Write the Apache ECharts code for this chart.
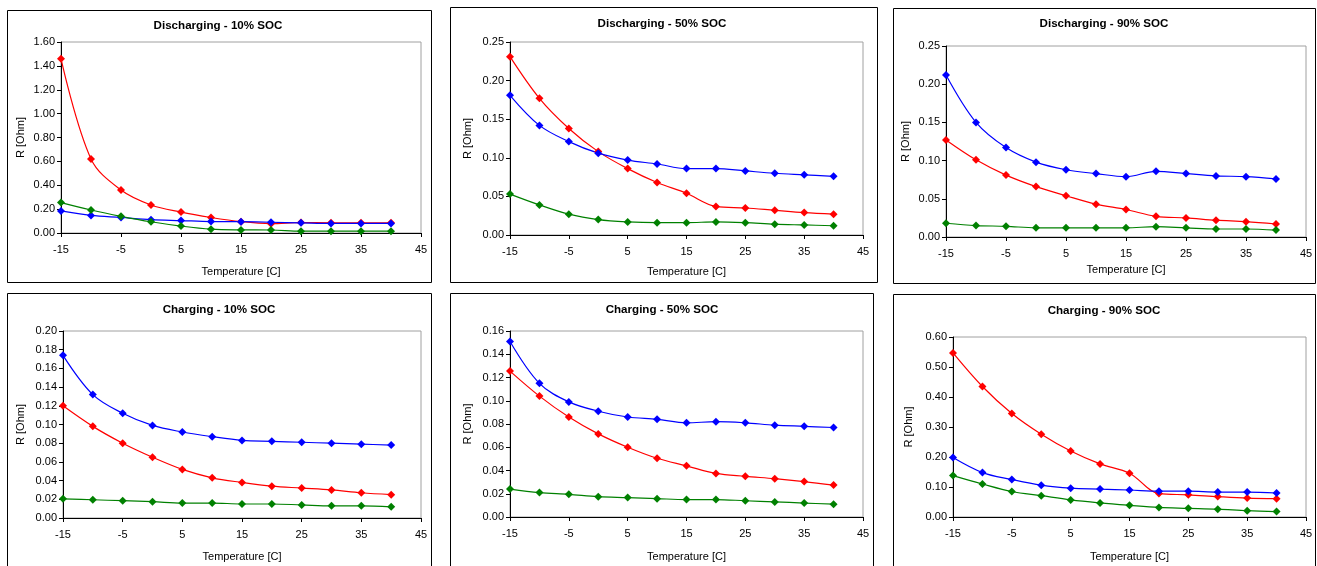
<!DOCTYPE html>
<html>
<head>
<meta charset="utf-8">
<script src="https://cdn.jsdelivr.net/npm/echarts@6/dist/echarts.min.js"></script>
<style>
  html, body { margin: 0; padding: 0; background: #fff; }
  #chart { width: 1317px; height: 566px; }
</style>
</head>
<body>
<div id="chart"></div>
<script>
// Temperatures at which resistance was measured [C]
const temps = [-15, -10, -5, 0, 5, 10, 15, 20, 25, 30, 35, 40];

// Discharging - 10% SOC
const dis10Red   = [1.46, 0.62, 0.36, 0.235, 0.175, 0.13, 0.095, 0.078, 0.088, 0.086, 0.086, 0.086];
const dis10Blue  = [0.185, 0.147, 0.13, 0.112, 0.104, 0.096, 0.095, 0.09, 0.085, 0.08, 0.08, 0.08];
const dis10Green = [0.255, 0.193, 0.14, 0.094, 0.058, 0.032, 0.026, 0.025, 0.015, 0.015, 0.015, 0.015];

// Discharging - 50% SOC
const dis50Red   = [0.231, 0.177, 0.138, 0.108, 0.086, 0.068, 0.054, 0.037, 0.035, 0.032, 0.029, 0.027];
const dis50Blue  = [0.181, 0.142, 0.121, 0.106, 0.097, 0.092, 0.086, 0.086, 0.083, 0.080, 0.078, 0.076];
const dis50Green = [0.053, 0.039, 0.027, 0.020, 0.017, 0.016, 0.016, 0.017, 0.016, 0.014, 0.013, 0.012];

// Discharging - 90% SOC
const dis90Red   = [0.127, 0.101, 0.081, 0.066, 0.054, 0.043, 0.036, 0.027, 0.025, 0.022, 0.020, 0.017];
const dis90Blue  = [0.212, 0.150, 0.117, 0.098, 0.088, 0.083, 0.079, 0.086, 0.083, 0.080, 0.079, 0.076];
const dis90Green = [0.018, 0.015, 0.014, 0.012, 0.012, 0.012, 0.012, 0.0135, 0.012, 0.0105, 0.0105, 0.009];

// Charging - 10% SOC
const chg10Red   = [0.120, 0.098, 0.080, 0.065, 0.052, 0.043, 0.038, 0.034, 0.032, 0.030, 0.027, 0.025];
const chg10Blue  = [0.174, 0.132, 0.112, 0.099, 0.092, 0.087, 0.083, 0.082, 0.081, 0.080, 0.079, 0.078];
const chg10Green = [0.0205, 0.0195, 0.0185, 0.0175, 0.016, 0.016, 0.015, 0.015, 0.014, 0.013, 0.013, 0.012];

// Charging - 50% SOC
const chg50Red   = [0.1255, 0.104, 0.086, 0.0715, 0.060, 0.0505, 0.044, 0.0375, 0.035, 0.033, 0.0305, 0.0275];
const chg50Blue  = [0.151, 0.115, 0.099, 0.091, 0.086, 0.084, 0.081, 0.082, 0.081, 0.079, 0.078, 0.077];
const chg50Green = [0.024, 0.021, 0.0195, 0.0175, 0.0167, 0.0158, 0.015, 0.015, 0.014, 0.013, 0.012, 0.011];

// Charging - 90% SOC
const chg90Red   = [0.547, 0.435, 0.345, 0.276, 0.220, 0.177, 0.146, 0.078, 0.074, 0.068, 0.063, 0.061];
const chg90Blue  = [0.198, 0.148, 0.125, 0.106, 0.096, 0.093, 0.090, 0.086, 0.086, 0.083, 0.083, 0.080];
const chg90Green = [0.138, 0.110, 0.085, 0.071, 0.057, 0.047, 0.039, 0.032, 0.029, 0.026, 0.021, 0.018];

// Panel titles and y-axis ranges
const titles = [
  'Discharging - 10% SOC', 'Discharging - 50% SOC', 'Discharging - 90% SOC',
  'Charging - 10% SOC', 'Charging - 50% SOC', 'Charging - 90% SOC'
];
const yMax  = [1.6, 0.25, 0.25, 0.2, 0.16, 0.6];
const yStep = [0.2, 0.05, 0.05, 0.02, 0.02, 0.1];
const xTicks = { min: -15, max: 45, interval: 10 };
const xName = 'Temperature [C]';
const yName = 'R [Ohm]';

const panelData = [
  [dis10Red, dis10Blue, dis10Green],
  [dis50Red, dis50Blue, dis50Green],
  [dis90Red, dis90Blue, dis90Green],
  [chg10Red, chg10Blue, chg10Green],
  [chg50Red, chg50Blue, chg50Green],
  [chg90Red, chg90Blue, chg90Green]
];
const lineColors = ['#ff0000', '#0000ff', '#008000'];

// Layout of each panel: outer frame, plot area, title position, axis-name gaps
const layout = [
  { box: [7, 10, 424, 272],  grid: [61, 42, 360, 191],  title: [218, 26],  xGap: 33, yGap: 35 },
  { box: [450, 7, 427, 275], grid: [510, 42, 353, 193], title: [662, 24],  xGap: 31, yGap: 37 },
  { box: [893, 8, 422, 275], grid: [946, 46, 360, 191], title: [1104, 24], xGap: 27, yGap: 35 },
  { box: [7, 293, 424, 290], grid: [63, 331, 358, 187], title: [219, 310], xGap: 33, yGap: 37 },
  { box: [450, 293, 423, 290], grid: [510, 331, 353, 186], title: [662, 310], xGap: 34, yGap: 37 },
  { box: [893, 294, 422, 290], grid: [953, 337, 353, 180], title: [1104, 311], xGap: 34, yGap: 39 }
];

const FONT = '"Liberation Sans", Arial, sans-serif';

const grids = [], xAxes = [], yAxes = [], series = [], graphics = [];

layout.forEach((p, i) => {
  graphics.push({
    type: 'rect',
    shape: { x: p.box[0] + 0.5, y: p.box[1] + 0.5, width: p.box[2], height: p.box[3] },
    style: { fill: 'none', stroke: '#000', lineWidth: 1 },
    z: 0
  });
  graphics.push({
    type: 'text',
    x: p.title[0], y: p.title[1],
    style: {
      text: titles[i], align: 'center', verticalAlign: 'middle',
      font: 'bold 11.6px ' + FONT, fill: '#000'
    }
  });

  grids.push({
    left: p.grid[0], top: p.grid[1], width: p.grid[2], height: p.grid[3],
    show: true, borderColor: '#a0a0a0', borderWidth: 1, backgroundColor: '#fff'
  });

  xAxes.push({
    type: 'value', gridIndex: i,
    min: xTicks.min, max: xTicks.max, interval: xTicks.interval,
    name: xName, nameLocation: 'middle', nameGap: p.xGap,
    nameTextStyle: { fontFamily: FONT, fontSize: 11, color: '#000' },
    axisLine: { show: true, onZero: false, lineStyle: { color: '#000', width: 1 } },
    axisTick: { show: true, inside: false, length: 4, lineStyle: { color: '#000' } },
    axisLabel: { fontFamily: FONT, fontSize: 11, color: '#000', margin: 11, showMinLabel: true, showMaxLabel: true },
    splitLine: { show: false }
  });

  yAxes.push({
    type: 'value', gridIndex: i,
    min: 0, max: yMax[i], interval: yStep[i],
    name: yName, nameLocation: 'middle', nameGap: p.yGap, nameRotate: 90,
    nameTextStyle: { fontFamily: FONT, fontSize: 11, color: '#000' },
    axisLine: { show: true, onZero: false, lineStyle: { color: '#000', width: 1 } },
    axisTick: { show: true, inside: false, length: 4, lineStyle: { color: '#000' } },
    axisLabel: {
      fontFamily: FONT, fontSize: 11, color: '#000', margin: 6,
      formatter: v => v.toFixed(2)
    },
    splitLine: { show: false }
  });

  panelData[i].forEach((vals, k) => {
    series.push({
      type: 'line',
      xAxisIndex: i, yAxisIndex: i,
      data: temps.map((t, j) => [t, vals[j]]),
      smooth: 0.35,
      symbol: 'diamond', symbolSize: 8,
      lineStyle: { color: lineColors[k], width: 1.2 },
      itemStyle: { color: lineColors[k] },
      z: 3
    });
  });
});

const chart = echarts.init(document.getElementById('chart'), null, { renderer: 'canvas' });
chart.setOption({
  animation: false,
  backgroundColor: '#fff',
  grid: grids,
  xAxis: xAxes,
  yAxis: yAxes,
  series: series,
  graphic: graphics
});
</script>
</body>
</html>
